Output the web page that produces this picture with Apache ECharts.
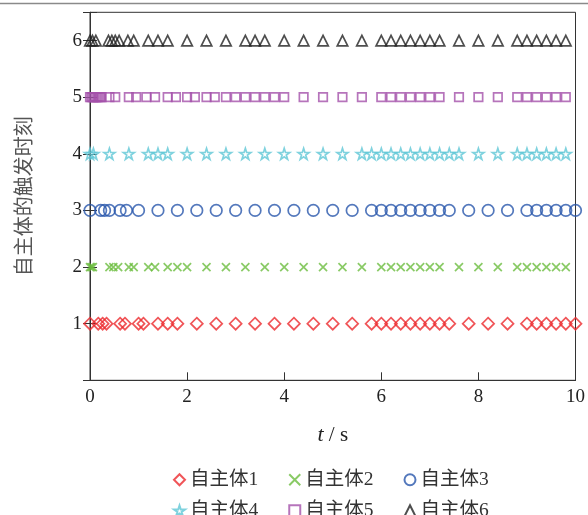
<!DOCTYPE html>
<html>
<head>
<meta charset="utf-8">
<script src="https://cdn.jsdelivr.net/npm/echarts@6/dist/echarts.min.js"></script>
<style>
html,body{margin:0;padding:0;background:#fff;}
#chart{width:588px;height:515px;}
</style>
</head>
<body>
<div id="chart"></div>
<script>
// trigger instants (s) for each agent
const agent1 = [0, 0.17, 0.26, 0.34, 0.62, 0.72, 1.0, 1.1, 1.4, 1.6, 1.8, 2.2, 2.6, 3.0, 3.4, 3.8, 4.2, 4.6, 5.0, 5.4, 5.8, 6.0, 6.2, 6.4, 6.6, 6.8, 7.0, 7.2, 7.4, 7.8, 8.2, 8.6, 9.0, 9.2, 9.4, 9.6, 9.8, 10.0];
const agent2 = [0, 0.03, 0.06, 0.4, 0.48, 0.58, 0.8, 0.9, 1.2, 1.34, 1.6, 1.8, 2.0, 2.4, 2.8, 3.2, 3.6, 4.0, 4.4, 4.8, 5.2, 5.6, 6.0, 6.2, 6.4, 6.6, 6.8, 7.0, 7.2, 7.6, 8.0, 8.4, 8.8, 9.0, 9.2, 9.4, 9.6, 9.8];
const agent3 = [0, 0.22, 0.3, 0.4, 0.62, 0.75, 1.0, 1.4, 1.8, 2.2, 2.6, 3.0, 3.4, 3.8, 4.2, 4.6, 5.0, 5.4, 5.8, 6.0, 6.2, 6.4, 6.6, 6.8, 7.0, 7.2, 7.4, 7.8, 8.2, 8.6, 9.0, 9.2, 9.4, 9.6, 9.8, 10.0];
const agent4 = [0, 0.07, 0.4, 0.8, 1.2, 1.4, 1.6, 2.0, 2.4, 2.8, 3.2, 3.6, 4.0, 4.4, 4.8, 5.2, 5.6, 5.8, 6.0, 6.2, 6.4, 6.6, 6.8, 7.0, 7.2, 7.4, 7.6, 8.0, 8.4, 8.8, 9.0, 9.2, 9.4, 9.6, 9.8];
const agent5 = [0, 0.03, 0.06, 0.09, 0.12, 0.15, 0.18, 0.21, 0.24, 0.4, 0.52, 0.8, 0.95, 1.16, 1.34, 1.6, 1.77, 2.0, 2.16, 2.4, 2.57, 2.8, 3.0, 3.2, 3.4, 3.6, 3.8, 4.0, 4.4, 4.8, 5.2, 5.6, 6.0, 6.2, 6.4, 6.6, 6.8, 7.0, 7.2, 7.6, 8.0, 8.4, 8.8, 9.0, 9.2, 9.4, 9.6, 9.8];
const agent6 = [0, 0.05, 0.12, 0.38, 0.45, 0.52, 0.6, 0.78, 0.9, 1.2, 1.4, 1.6, 2.0, 2.4, 2.8, 3.2, 3.4, 3.6, 4.0, 4.4, 4.8, 5.2, 5.6, 6.0, 6.2, 6.4, 6.6, 6.8, 7.0, 7.2, 7.6, 8.0, 8.4, 8.8, 9.0, 9.2, 9.4, 9.6, 9.8];

const seriesNames = ['自主体1', '自主体2', '自主体3', '自主体4', '自主体5', '自主体6'];
const agentIndex = [1, 2, 3, 4, 5, 6];
const xTicks = { min: 0, max: 10, interval: 2 };
const yTicks = { min: 0, max: 6.5, interval: 1 };
const yName = '自主体的触发时刻';

const agents = [agent1, agent2, agent3, agent4, agent5, agent6];
const colors = ['#ec2a2e', '#6cbd3e', '#2856ab', '#5fc7d6', '#a451aa', '#222222'];
const symbols = [
  'diamond',
  'path://M0,0L10,10M10,0L0,10',
  'circle',
  'path://M50,2L61,36L97,36L68,57L79,92L50,71L21,92L32,57L3,36L39,36Z',
  'rect',
  'triangle'
];
const sizes = [12, 8, 11.5, 11, 8.5, 10.5];

const serif = "'Liberation Serif', 'Times New Roman', 'Noto Sans CJK SC', serif";
const mixed = "'Liberation Serif', 'Noto Sans CJK SC', serif";

const series = agents.map((arr, i) => ({
  name: seriesNames[i],
  type: 'scatter',
  xAxisIndex: 0,
  yAxisIndex: 0,
  symbol: symbols[i],
  symbolSize: sizes[i],
  data: arr.map(t => [t, agentIndex[i]]),
  itemStyle: { color: 'rgba(0,0,0,0)', borderColor: colors[i], borderWidth: 1.7 },
  emphasis: { disabled: true },
  z: 3
}));
// empty helper series so the mirrored right axis draws its ticks
series.push({ type: 'scatter', xAxisIndex: 1, yAxisIndex: 1, data: [], silent: true });

const chart = echarts.init(document.getElementById('chart'), null, { renderer: 'canvas' });
const legendCommon = {
  left: 168,
  itemWidth: 11,
  itemHeight: 11,
  itemGap: 30,
  textStyle: { fontFamily: mixed, fontSize: 19.5, color: '#333' },
  selectedMode: false
};
chart.setOption({
  animation: false,
  backgroundColor: '#fff',
  grid: { left: 90, right: 11.5, top: 12.3, bottom: 134.7, show: true, borderColor: '#333', borderWidth: 1, backgroundColor: 'transparent' },
  legend: [
    Object.assign({}, legendCommon, { top: 465, data: seriesNames.slice(0, 3) }),
    Object.assign({}, legendCommon, { top: 496, data: seriesNames.slice(3, 6) })
  ],
  graphic: [{
    type: 'line', shape: { x1: 0, y1: 3.5, x2: 588, y2: 3.5 },
    style: { stroke: '#8a8a8a', lineWidth: 1.5 }
  }],
  xAxis: [{
    type: 'value', position: 'bottom',
    min: xTicks.min, max: xTicks.max, interval: xTicks.interval,
    axisLine: { lineStyle: { color: '#333', width: 1 } },
    axisTick: { inside: true, length: 8, lineStyle: { color: '#333' } },
    axisLabel: { fontFamily: serif, fontSize: 19, color: '#222', margin: 7 },
    splitLine: { show: false },
    name: '{i|t} / s',
    nameLocation: 'middle',
    nameGap: 44,
    nameTextStyle: {
      fontFamily: serif, fontSize: 21, color: '#222',
      rich: { i: { fontStyle: 'italic', fontFamily: serif, fontSize: 22, color: '#222' } }
    }
  }, {
    type: 'value', position: 'top',
    min: xTicks.min, max: xTicks.max, interval: xTicks.interval,
    axisLine: { show: true, lineStyle: { color: '#333', width: 1 } },
    axisTick: { show: false },
    axisLabel: { show: false },
    splitLine: { show: false }
  }],
  yAxis: [{
    type: 'value', position: 'left',
    min: yTicks.min, max: yTicks.max, interval: yTicks.interval,
    axisLine: { lineStyle: { color: '#444', width: 1 } },
    axisTick: { inside: true, length: 7, lineStyle: { color: '#333' } },
    axisLabel: {
      fontFamily: serif, fontSize: 19, color: '#222', margin: 8,
      formatter: v => (v >= 1 && Number.isInteger(v)) ? String(v) : ''
    },
    splitLine: { show: false },
    name: yName,
    nameLocation: 'middle',
    nameGap: 57,
    nameTextStyle: { fontFamily: "'Noto Sans CJK SC', sans-serif", fontSize: 20, color: '#555' }
  }, {
    type: 'value', position: 'right',
    min: yTicks.min, max: yTicks.max, interval: yTicks.interval,
    axisLine: { show: true, lineStyle: { color: '#333', width: 1 } },
    axisTick: { show: true, inside: true, length: 7, lineStyle: { color: '#333' } },
    axisLabel: { show: false },
    splitLine: { show: false }
  }],
  series: series
});
</script>
</body>
</html>
